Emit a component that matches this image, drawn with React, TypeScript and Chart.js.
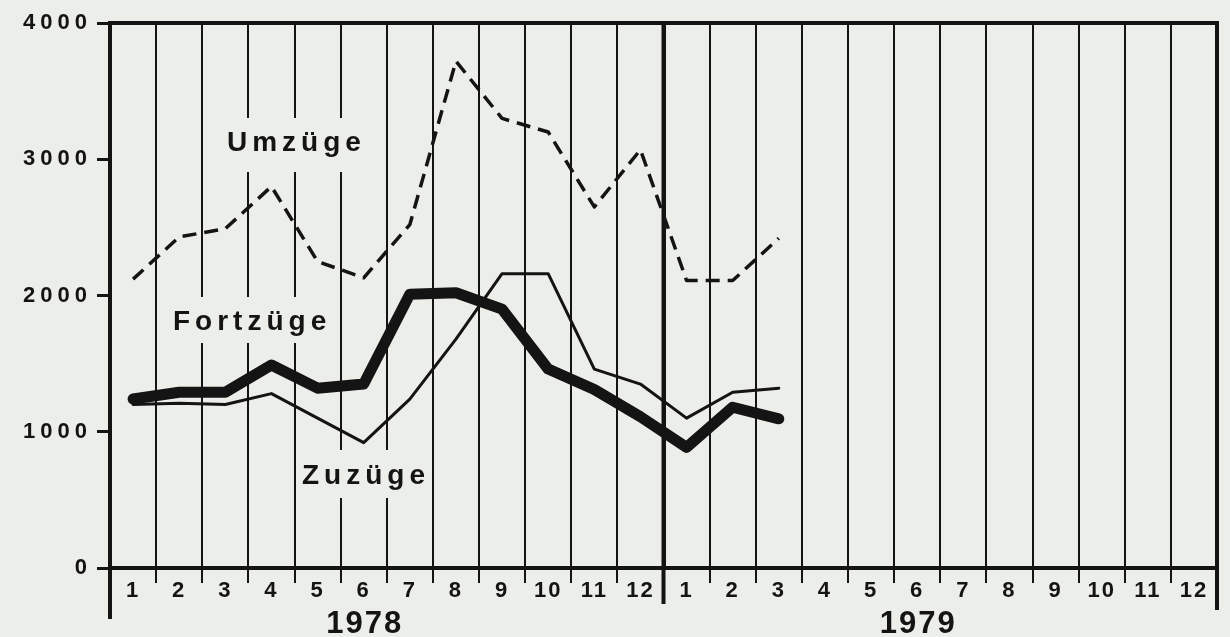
import React, { useEffect, useRef } from 'react';
import { Chart, registerables } from 'chart.js';

Chart.register(...registerables);

// ---- data ----
const months: string[] = ['1','2','3','4','5','6','7','8','9','10','11','12','1','2','3','4','5','6','7','8','9','10','11','12'];
const years: string[] = ['1978', '1979'];
const umzuege: (number | null)[] = [2120, 2430, 2490, 2800, 2250, 2130, 2520, 3720, 3300, 3200, 2650, 3070, 2110, 2110, 2420, null, null, null, null, null, null, null, null, null];
const fortzuege: (number | null)[] = [1240, 1290, 1290, 1490, 1320, 1350, 2010, 2020, 1900, 1460, 1310, 1110, 885, 1180, 1095, null, null, null, null, null, null, null, null, null];
const zuzuege: (number | null)[] = [1200, 1210, 1200, 1280, 1100, 920, 1240, 1680, 2160, 2160, 1460, 1350, 1100, 1290, 1320, null, null, null, null, null, null, null, null, null];
const yTicks: number[] = [0, 1000, 2000, 3000, 4000];
const seriesNames: string[] = ['Umzüge', 'Fortzüge', 'Zuzüge'];

// ---- style / layout ----
const BG = '#eceee9';
const INK = '#141414';
const FONT = '"Liberation Sans", Arial, sans-serif';
const labelBoxes = [
  { text: seriesNames[0], x: 227, y: 151, box: [220, 118, 145, 54] },
  { text: seriesNames[1], x: 173, y: 330, box: [168, 297, 167, 46] },
  { text: seriesNames[2], x: 302, y: 484, box: [298, 450, 133, 48] },
];

const decor = {
  id: 'decor',
  beforeDraw(chart: any) {
    const { ctx, width, height } = chart;
    ctx.save();
    ctx.fillStyle = BG;
    ctx.fillRect(0, 0, width, height);
    ctx.restore();
    ctx.letterSpacing = '2px';
  },
  beforeDatasetsDraw(chart: any) {
    const { ctx, chartArea } = chart;
    const xs = chart.scales.x;
    ctx.save();
    ctx.strokeStyle = INK;
    ctx.lineCap = 'butt';
    // top border
    ctx.lineWidth = 4;
    ctx.beginPath();
    ctx.moveTo(chartArea.left - 2, chartArea.top);
    ctx.lineTo(chartArea.right + 2, chartArea.top);
    ctx.stroke();
    // right border, extended downwards
    ctx.beginPath();
    ctx.moveTo(chartArea.right, chartArea.top - 2);
    ctx.lineTo(chartArea.right, 610);
    ctx.stroke();
    // left axis extension
    ctx.beginPath();
    ctx.moveTo(chartArea.left, chartArea.bottom);
    ctx.lineTo(chartArea.left, 619);
    ctx.stroke();
    // year separator
    const sep = (xs.getPixelForValue(11) + xs.getPixelForValue(12)) / 2;
    ctx.beginPath();
    ctx.moveTo(sep, chartArea.top);
    ctx.lineTo(sep, 604);
    ctx.stroke();
    // series labels with gaps in grid
    ctx.font = `bold 28px ${FONT}`;
    ctx.letterSpacing = '5px';
    ctx.textAlign = 'left';
    ctx.textBaseline = 'alphabetic';
    for (const l of labelBoxes) {
      ctx.fillStyle = BG;
      ctx.fillRect(l.box[0], l.box[1], l.box[2], l.box[3]);
      ctx.fillStyle = INK;
      ctx.fillText(l.text, l.x, l.y);
    }
    // year labels
    ctx.font = `bold 31px ${FONT}`;
    ctx.letterSpacing = '2px';
    ctx.textAlign = 'center';
    ctx.fillText(years[0], xs.getPixelForValue(5) + 1, 633);
    ctx.fillText(years[1], xs.getPixelForValue(17) + 1, 633);
    ctx.restore();
  },
  afterDatasetsDraw(chart: any) {
    // y tick labels (ticks.z: 1) are drawn after the datasets: wider letter spacing there
    chart.ctx.letterSpacing = '5px';
  },
  afterDraw(chart: any) {
    chart.ctx.letterSpacing = '0px';
  },
};

export default function App() {
  const ref = useRef<HTMLCanvasElement>(null);
  useEffect(() => {
    document.body.style.margin = '0';
    document.body.style.background = BG;
    const chart = new Chart(ref.current as HTMLCanvasElement, {
      type: 'line',
      data: {
        labels: months,
        datasets: [
          {
            label: seriesNames[0],
            data: umzuege,
            borderColor: INK,
            borderWidth: 3.5,
            borderDash: [14, 8],
            pointRadius: 0,
            tension: 0,
            borderJoinStyle: 'round',
          },
          {
            label: seriesNames[2],
            data: zuzuege,
            borderColor: INK,
            borderWidth: 3,
            pointRadius: 0,
            tension: 0,
            borderJoinStyle: 'round',
            borderCapStyle: 'round',
          },
          {
            label: seriesNames[1],
            data: fortzuege,
            borderColor: INK,
            borderWidth: 11,
            pointRadius: 0,
            tension: 0,
            borderJoinStyle: 'round',
            borderCapStyle: 'round',
          },
        ],
      },
      options: {
        animation: false,
        responsive: false,
        events: [],
        layout: { padding: { top: 23, left: 0, right: 13, bottom: 0 } },
        plugins: { legend: { display: false }, tooltip: { enabled: false }, title: { display: false } },
        scales: {
          x: {
            type: 'category',
            offset: true,
            afterFit: (s: any) => { s.height = 69; },
            grid: {
              offset: true,
              color: INK,
              lineWidth: (c: any) => (c.index === 12 ? 4 : c.index === 0 ? 0 : 2),
              drawTicks: true,
              tickLength: 15,
              tickWidth: 2,
              tickColor: INK,
            },
            border: { display: true, color: INK, width: 4 },
            ticks: {
              color: INK,
              font: { family: FONT, size: 22, weight: 'bold' },
              padding: -5,
              maxRotation: 0,
              autoSkip: false,
            },
          },
          y: {
            min: 0,
            max: 4000,
            afterFit: (s: any) => { s.width = 110; },
            afterBuildTicks: (s: any) => { s.ticks = yTicks.map((v) => ({ value: v })); },
            grid: {
              drawOnChartArea: false,
              drawTicks: true,
              tickLength: 13,
              color: INK,
              lineWidth: 3,
            },
            border: { display: true, color: INK, width: 4 },
            ticks: {
              z: 1,
              color: INK,
              font: { family: FONT, size: 22, weight: 'bold' },
              padding: 5,
              callback: (v: any) => String(v),
            },
          },
        },
      },
      plugins: [decor],
    } as any);
    return () => chart.destroy();
  }, []);
  return (
    <div style={{ width: 1230, height: 637, background: BG }}>
      <canvas ref={ref} width={1230} height={637} style={{ display: 'block' }} />
    </div>
  );
}
